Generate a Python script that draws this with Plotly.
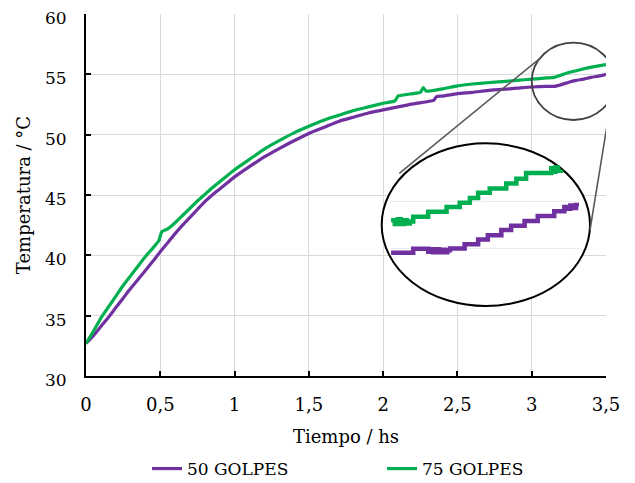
import plotly.graph_objects as go

# ---------------- data ----------------
series_names = ["50 GOLPES", "75 GOLPES"]

time_50 = [0, 0.05, 0.1, 0.15, 0.2, 0.25, 0.3, 0.35, 0.4, 0.45, 0.5, 0.55, 0.6, 0.65, 0.7,
           0.75, 0.8, 0.85, 0.9, 0.95, 1.0, 1.1, 1.2, 1.3, 1.4, 1.5, 1.6, 1.7, 1.8, 1.9,
           2.0, 2.1, 2.2, 2.3, 2.34, 2.36, 2.4, 2.5, 2.6, 2.7, 2.8, 2.9, 3.0, 3.1, 3.15,
           3.2, 3.25, 3.3, 3.35, 3.4, 3.45, 3.5]
temp_50 = [32.7, 33.35, 34.1, 34.85, 35.65, 36.45, 37.25, 38.0, 38.75, 39.5, 40.3, 41.05,
           41.8, 42.5, 43.15, 43.8, 44.45, 45.0, 45.5, 46.0, 46.5, 47.35, 48.15, 48.85,
           49.5, 50.1, 50.6, 51.1, 51.45, 51.8, 52.05, 52.3, 52.55, 52.75, 52.85, 53.15,
           53.2, 53.4, 53.5, 53.65, 53.75, 53.85, 53.95, 54.0, 54.0, 54.15, 54.35, 54.5,
           54.6, 54.75, 54.85, 55.0]

time_75 = [0, 0.05, 0.1, 0.15, 0.2, 0.25, 0.3, 0.35, 0.4, 0.45, 0.49, 0.51, 0.55, 0.6, 0.65,
           0.7, 0.75, 0.8, 0.85, 0.9, 0.95, 1.0, 1.1, 1.2, 1.3, 1.4, 1.5, 1.6, 1.7, 1.8,
           1.9, 2.0, 2.08, 2.1, 2.2, 2.25, 2.27, 2.29, 2.4, 2.5, 2.6, 2.7, 2.8, 2.9, 3.0,
           3.1, 3.15, 3.2, 3.25, 3.3, 3.35, 3.4, 3.45, 3.5]
temp_75 = [32.7, 33.7, 34.8, 35.7, 36.6, 37.5, 38.3, 39.1, 39.9, 40.6, 41.2, 41.95, 42.2,
           42.7, 43.3, 43.9, 44.5, 45.05, 45.6, 46.1, 46.6, 47.1, 47.95, 48.8, 49.5, 50.15,
           50.7, 51.2, 51.6, 52.0, 52.3, 52.6, 52.8, 53.2, 53.4, 53.5, 53.9, 53.6, 53.8,
           54.05, 54.2, 54.3, 54.4, 54.5, 54.6, 54.7, 54.75, 54.95, 55.15, 55.3, 55.45,
           55.6, 55.7, 55.8]

# magnified detail (inset) of the final half hour
zoom_time_50 = [3.000, 3.059, 3.099, 3.105, 3.112, 3.120, 3.128, 3.136, 3.143, 3.150, 3.157,
                3.196, 3.232, 3.258, 3.294, 3.320, 3.356, 3.391, 3.435, 3.462, 3.470, 3.478,
                3.486, 3.493, 3.500]
zoom_temp_50 = [53.91, 53.99, 53.93, 53.98, 53.92, 53.98, 53.92, 53.97, 53.92, 53.96, 54.00,
                54.09, 54.19, 54.28, 54.39, 54.48, 54.58, 54.69, 54.79, 54.88, 54.84, 54.91,
                54.86, 54.92, 54.90]
zoom_time_75 = [3.000, 3.010, 3.018, 3.026, 3.034, 3.042, 3.050, 3.059, 3.099, 3.148, 3.183,
                3.210, 3.232, 3.263, 3.307, 3.334, 3.360, 3.427, 3.432, 3.438, 3.445, 3.453]
zoom_temp_75 = [54.60, 54.52, 54.62, 54.52, 54.60, 54.53, 54.57, 54.67, 54.78, 54.88, 54.97,
                55.07, 55.18, 55.27, 55.38, 55.48, 55.60, 55.70, 55.63, 55.72, 55.65, 55.67]

x_title = "Tiempo / hs"
y_title = "Temperatura / °C"

# ---------------- styling / layout helpers ----------------
OFF = 8                                     # page body margin of the rendered html
WIN_W, WIN_H = 635, 483
W, H = WIN_W - OFF, WIN_H - OFF
PL, PR, PT, PB = 86, 606, 14, 376           # plot area in window pixels
X_RANGE = [0, 3.5]
Y_RANGE = [30, 60]
PURPLE = "#7030A0"
GREEN = "#00B050"
FONT = "DejaVu Serif"


def dx(px):
    return X_RANGE[0] + (px - PL) / (PR - PL) * (X_RANGE[1] - X_RANGE[0])


def dy(py):
    return Y_RANGE[1] - (py - PT) / (PB - PT) * (Y_RANGE[1] - Y_RANGE[0])


def fx(px):
    return (px - PL) / (PR - PL)


def fy(py):
    return (PB - py) / (PB - PT)


fig = go.Figure()

fig.add_trace(go.Scatter(x=time_50, y=temp_50, mode="lines", name=series_names[0],
                         line=dict(color=PURPLE, width=3.2, shape="spline", smoothing=0.6)))
fig.add_trace(go.Scatter(x=time_75, y=temp_75, mode="lines", name=series_names[1],
                         line=dict(color=GREEN, width=3.2, shape="spline", smoothing=0.4)))

# inset traces
fig.add_trace(go.Scatter(x=zoom_time_50, y=zoom_temp_50, mode="lines", showlegend=False,
                         line=dict(color=PURPLE, width=4.5, shape="hv"),
                         xaxis="x2", yaxis="y2"))
fig.add_trace(go.Scatter(x=zoom_time_75, y=zoom_temp_75, mode="lines", showlegend=False,
                         line=dict(color=GREEN, width=4.5, shape="hv"),
                         xaxis="x2", yaxis="y2"))

axis_common = dict(showline=True, linecolor="black", linewidth=2, ticks="inside",
                   ticklen=5, tickwidth=2, tickcolor="black", gridcolor="#d9d9d9",
                   gridwidth=1.3, zeroline=False, automargin=False,
                   ticklabeloverflow="allow")

fig.update_layout(
    width=W, height=H,
    margin=dict(l=PL - OFF, r=WIN_W - PR, t=PT - OFF, b=WIN_H - PB, autoexpand=False),
    paper_bgcolor="white", plot_bgcolor="rgba(0,0,0,0)",
    separators=",.",
    font=dict(family=FONT, color="black"),
    xaxis=dict(range=X_RANGE, dtick=0.5, tick0=0, domain=[0, 1],
               tickfont=dict(family=FONT, size=18, color="black"),
               title=dict(text=x_title, font=dict(family=FONT, size=18, color="black"), standoff=17),
               ticklabelstandoff=11, **axis_common),
    yaxis=dict(range=Y_RANGE, dtick=5, tick0=30, domain=[0, 1],
               tickfont=dict(family=FONT, size=17, color="black"),
               title=dict(text=y_title, font=dict(family=FONT, size=18, color="black"), standoff=10),
               ticklabelstandoff=14, ticklabelshift=4, **axis_common),
    xaxis2=dict(domain=[fx(390.7), fx(579)], range=[2.999, 3.501], anchor="y2",
                tickvals=[3.0, 3.5], showticklabels=False, ticks="", showline=False,
                gridcolor="#ececec", gridwidth=1.2, zeroline=False),
    yaxis2=dict(domain=[fy(295.7), fy(154)], range=[52.995, 56.005], anchor="x2",
                tickvals=[53, 54, 55, 56], showticklabels=False, ticks="", showline=False,
                gridcolor="#ececec", gridwidth=1.2, zeroline=False),
    legend=dict(orientation="h", x=fx(147), xanchor="left", y=fy(469), yanchor="middle",
                font=dict(family=FONT, size=17, color="black"), entrywidth=190,
                itemwidth=30, bgcolor="rgba(0,0,0,0)"),
    showlegend=True,
)

shapes = [
    # big magnifying ellipse (white fill, between grid and traces)
    dict(type="circle", xref="x", yref="y", layer="between",
         x0=dx(381.7), x1=dx(590), y0=dy(306), y1=dy(143.3),
         fillcolor="white", line=dict(color="black", width=2)),
    # small circle around the detail region
    dict(type="circle", xref="x", yref="y", layer="above",
         x0=dx(531.7), x1=dx(615), y0=dy(120), y1=dy(42.7),
         fillcolor="rgba(0,0,0,0)", line=dict(color="#404040", width=1.8)),
    # connector lines
    dict(type="line", xref="x", yref="y", layer="above",
         x0=dx(540), y0=dy(58.3), x1=dx(399.3), y1=dy(173.3),
         line=dict(color="#5a5a5a", width=1.6)),
    dict(type="line", xref="x", yref="y", layer="above",
         x0=dx(611.7), y0=dy(96.7), x1=dx(590), y1=dy(230),
         line=dict(color="#5a5a5a", width=1.6)),
]
fig.update_layout(shapes=shapes)

fig.write_html("out.html")
